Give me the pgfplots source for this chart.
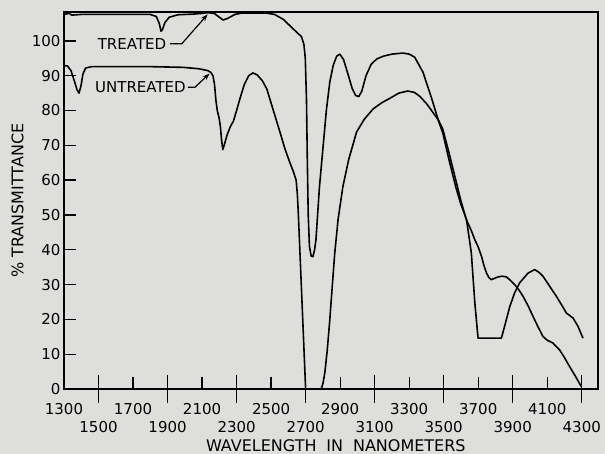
\documentclass[border=0pt]{standalone}
\usepackage{fontspec}
\setmainfont{DejaVu Sans}
\usepackage{pgfplots}
\usepackage{pgfplotstable}
\pgfplotsset{compat=1.18}
\usetikzlibrary{arrows.meta}
\definecolor{bg}{RGB}{222,222,220}

\pgfplotstableread{
x y
1300 107.6
1330 107.9
1345 107.4
1400 107.6
1600 107.6
1800 107.6
1835 107.0
1852 105.0
1862 102.8
1870 103.2
1885 105.3
1910 106.8
1960 107.5
2050 107.7
2100 107.9
2135 108.1
2170 107.9
2200 106.8
2222 106.0
2250 106.5
2290 107.6
2330 108.0
2470 108.0
2520 107.6
2570 106.2
2610 104.3
2650 102.4
2676 101.2
2690 99.0
2698 95
2705 83
2710 65
2715 50
2722 41
2732 38.2
2742 38
2752 40
2760 43
2768 49
2780 58
2800 69
2820 80
2840 88.2
2860 93
2880 95.6
2898 96.2
2920 94.6
2945 90.5
2970 86.3
2990 84.3
3008 84.0
3025 85.5
3050 90
3080 93.3
3112 94.8
3150 95.6
3200 96.2
3263 96.5
3300 96.2
3332 95.3
3380 91
3430 83.5
3470 77
3495 73.5
3530 66
3570 58
3600 53
3632 48.7
3660 39.1
3680 25
3699 14.6
3834 14.6
3850 17.5
3883 23.7
3910 27.5
3940 30.5
3989 33.3
4027 34.3
4050 33.6
4075 32.4
4110 29.8
4153 26.6
4185 24
4211 21.8
4249 20.4
4278 18.0
4295 16
4307 14.6
}\treated

\pgfplotstableread{
x y
1300 92.8
1320 92.8
1340 91.5
1360 88.5
1375 86
1387 85.0
1398 87
1410 90.5
1425 92.2
1460 92.6
1600 92.6
1800 92.6
1990 92.4
2080 92.0
2130 91.5
2150 91.0
2163 90
2172 87.5
2180 83
2188 80
2198 78
2206 75.5
2213 71.5
2220 68.8
2228 70
2245 73
2265 75.5
2282 77
2300 80
2320 83.5
2345 87.5
2370 90
2395 90.8
2420 90.2
2450 88.5
2475 86.2
2510 80.5
2550 74
2580 69
2609 65
2630 62.3
2645 60
2652 56
2658 50
2700 0
2790 0
2800 1.5
2811 4.6
2825 11
2840 19.9
2855 30
2869 39.2
2888 48.7
2916 58.2
2950 66
2995 73.8
3040 77.5
3090 80.4
3140 82.2
3188 83.5
3240 85
3292 85.6
3330 85.2
3361 84.1
3400 82
3437 79.5
3470 77.2
3495 74.6
3530 68
3570 60
3600 54
3632 48.5
3660 45.5
3680 42.9
3700 40.8
3719 38.1
3733 35.5
3748 33.3
3762 32
3776 31.4
3795 31.8
3815 32.2
3840 32.4
3863 32.2
3885 31.3
3911 30.0
3935 28.5
3960 26.6
3990 23.8
4018 20.8
4045 18
4075 15.1
4100 14
4133 13.2
4150 12.3
4172 11.2
4200 9
4230 6.4
4265 3.5
4297 0.7
}\untreated

\begin{document}
\begin{tikzpicture}
\fill[bg] (0,0) rectangle (605pt,454pt);
\useasboundingbox (0,0) rectangle (605pt,454pt);
\begin{axis}[
  at={(64pt,65pt)}, anchor=south west,
  scale only axis, width=534pt, height=377pt,
  xmin=1300, xmax=4394, ymin=0, ymax=108.3,
  clip=false,
  axis line style={line width=1.3pt},
  tick style={line width=1.3pt, black},
  tick align=inside, major tick length=12pt,
  tick pos=left,
  xtick={1300,1700,...,4100},
  extra x ticks={1500,1900,...,4300},
  extra x tick style={major tick length=28pt, tick align=center, xticklabel style={yshift=-4pt}},
  ytick={0,10,...,100},
  /pgf/number format/1000 sep={},
  /pgf/number format/assume math mode=true,
  tick label style={font=\fontsize{15}{18}\selectfont},
  xticklabel style={yshift=-11pt},
  xlabel={WAVELENGTH\hspace{0.3em} IN\hspace{0.3em} NANOMETERS},
  ylabel={\% TRANSMITTANCE},
  label style={font=\fontsize{16}{19}\selectfont, inner sep=0pt},
  xlabel style={at={(axis description cs:0.509,-0.150)}, anchor=center},
  ylabel style={at={(axis description cs:-0.087,0.5)}, anchor=center},
  every axis plot/.append style={line width=1.6pt, black, line join=round},
]
\addplot[no markers] table[x=x,y=y] {\treated};
\addplot[no markers] table[x=x,y=y] {\untreated};
\draw[line width=2.4pt] (rel axis cs:0,1) -- (rel axis cs:0,0) -- (rel axis cs:1,0);
\node[font=\fontsize{15}{18}\selectfont] at (axis cs:1694,99.2) {TREATED};
\draw[line width=1.2pt, -{Stealth[length=7pt,width=5pt]}] (axis cs:1914,99.2) -- (axis cs:1983,99.2) -- (axis cs:2132,107.6);
\node[font=\fontsize{15}{18}\selectfont] at (axis cs:1743,86.7) {UNTREATED};
\draw[line width=1.2pt, -{Stealth[length=7pt,width=5pt]}] (axis cs:2018,86.7) -- (axis cs:2059,86.7) -- (axis cs:2143,90.6);
\end{axis}
\end{tikzpicture}
\end{document}
